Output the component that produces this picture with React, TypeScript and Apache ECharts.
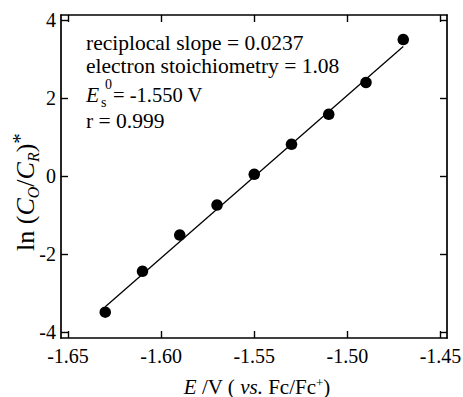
import React, { useEffect, useRef } from "react";
import * as echarts from "echarts";

const potentials = [-1.63, -1.61, -1.59, -1.57, -1.55, -1.53, -1.51, -1.49, -1.47];
const lnRatio = [-3.49, -2.44, -1.51, -0.74, 0.05, 0.82, 1.59, 2.41, 3.51];
const fitX = [-1.63, -1.47];
const fitY = [-3.35, 3.33];
const xTicks = [-1.65, -1.6, -1.55, -1.5, -1.45];
const yTicks = [-4, -2, 0, 2, 4];
const annotations = [
  "reciplocal slope = 0.0237",
  "electron stoichiometry = 1.08",
  "r = 0.999",
];

const FONT = "Liberation Serif";

export default function App() {
  const ref = useRef<HTMLDivElement>(null);
  useEffect(() => {
    if (!ref.current) return;
    const chart = echarts.init(ref.current, null, { renderer: "svg" });
    const axisLine = { show: true, onZero: false, lineStyle: { color: "#000", width: 1.7 } };
    const tickStyle = { color: "#000", width: 1.4 };
    const xBase = {
      type: "value" as const,
      min: -1.65376,
      max: -1.44651,
      axisLine,
      splitLine: { show: false },
    };
    const yBase = {
      type: "value" as const,
      min: -4.154,
      max: 4.141,
      axisLine,
      splitLine: { show: false },
    };
    const txt = (x: number, y: number, text: string, size: number, italic = false) => ({
      type: "text",
      x,
      y,
      style: {
        text,
        fill: "#000",
        fontFamily: FONT,
        fontSize: size,
        fontStyle: italic ? "italic" : "normal",
        verticalAlign: "middle",
      },
    });
    chart.setOption({
      animation: false,
      backgroundColor: "#fff",
      grid: {
        left: 61,
        right: 16,
        top: 15,
        bottom: 59,
        containLabel: false,
        outerBoundsMode: "none",
      },
      xAxis: [
        {
          ...xBase,
          position: "bottom",
          axisTick: { show: true, inside: true, length: 7, lineStyle: tickStyle, customValues: xTicks },
          axisLabel: {
            show: true,
            margin: 8,
            customValues: xTicks,
            formatter: (v: number) => v.toFixed(2),
            color: "#000",
            fontFamily: FONT,
            fontSize: 20,
          },
          name: "{i|E} {n|/V ( }{i|vs.}{n| Fc/Fc}{sup|+}{n|)}",
          nameLocation: "middle",
          nameGap: 38,
          nameTextStyle: {
            color: "#000",
            fontFamily: FONT,
            fontSize: 21,
            padding: [0, 0, 0, 6],
            rich: {
              i: { fontFamily: FONT, fontSize: 21, fontStyle: "italic", color: "#000", lineHeight: 20 },
              n: { fontFamily: FONT, fontSize: 21, color: "#000", lineHeight: 20 },
              sup: { fontFamily: FONT, fontSize: 13, color: "#000", lineHeight: 12, verticalAlign: "top" },
            },
          },
        },
        {
          ...xBase,
          position: "top",
          axisTick: { show: true, inside: true, length: 7, lineStyle: tickStyle, customValues: xTicks },
          axisLabel: { show: false },
        },
      ],
      yAxis: [
        {
          ...yBase,
          position: "left",
          axisTick: { show: true, inside: true, length: 7, lineStyle: tickStyle, customValues: yTicks },
          axisLabel: {
            show: true,
            margin: 5,
            customValues: yTicks,
            formatter: (v: number) => String(v),
            color: "#000",
            fontFamily: FONT,
            fontSize: 20,
          },
        },
        {
          ...yBase,
          position: "right",
          axisTick: { show: true, inside: true, length: 7, lineStyle: tickStyle, customValues: yTicks },
          axisLabel: { show: false },
        },
      ],
      graphic: [
        {
          type: "text",
          x: 25,
          y: 192,
          rotation: Math.PI / 2,
          style: {
            text: "{n|ln (}{i|C}{sub|O}{n|/}{i|C}{sub|R}{n|)}{sup|*}",
            align: "center",
            verticalAlign: "middle",
            fill: "#000",
            fontFamily: FONT,
            fontSize: 25,
            rich: {
              n: { fontFamily: FONT, fontSize: 26, fill: "#000", lineHeight: 32 },
              i: { fontFamily: FONT, fontSize: 26, fontStyle: "italic", fill: "#000", lineHeight: 32 },
              sub: { fontFamily: FONT, fontSize: 16, fontStyle: "italic", fill: "#000", lineHeight: 16, verticalAlign: "bottom" },
              sup: { fontFamily: FONT, fontSize: 21, fill: "#000", lineHeight: 21, verticalAlign: "top" },
            },
          },
        },
        txt(86, 43, annotations[0], 21.5),
        txt(86, 66, annotations[1], 21.5),
        txt(86, 95, "E", 21.5, true),
        txt(101, 102, "s", 14),
        txt(105, 84, "0", 14),
        txt(113, 95, "= -1.550 V", 20.5),
        txt(86, 121, annotations[2], 21.5),
      ],
      series: [
        {
          type: "line",
          data: fitX.map((x, i) => [x, fitY[i]]),
          symbol: "none",
          lineStyle: { color: "#000", width: 1.3 },
          silent: true,
        },
        {
          type: "scatter",
          data: potentials.map((x, i) => [x, lnRatio[i]]),
          symbol: "circle",
          symbolSize: 11.5,
          itemStyle: { color: "#000", opacity: 1 },
        },
      ],
    });
    return () => chart.dispose();
  }, []);
  return (
    <div
      ref={ref}
      style={{ position: "absolute", left: 0, top: 0, width: 463, height: 397, background: "#fff" }}
    />
  );
}
